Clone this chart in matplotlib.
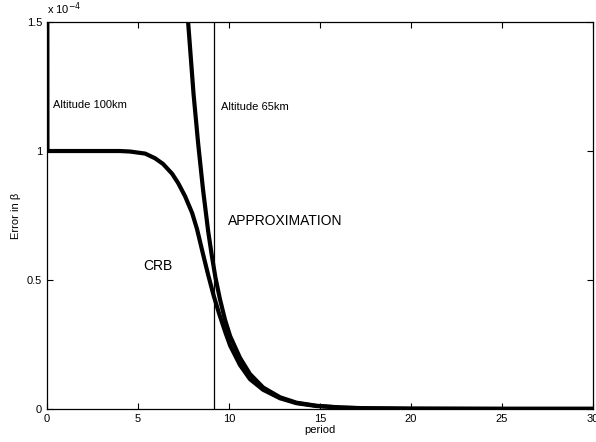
import numpy as np
import matplotlib
matplotlib.use('Agg')
import matplotlib.pyplot as plt

plt.rcParams['font.family'] = ['Liberation Sans', 'DejaVu Sans']

# values, error in units of 1e-4
crb_period = [0.0, 0.02, 2.0, 4.0, 4.56, 5.39, 5.93, 6.37, 6.87, 7.2, 7.58, 7.97,
              8.24, 8.57, 8.85, 9.15, 9.45, 9.78, 10.06, 10.6, 11.15, 11.87,
              12.8, 13.7, 14.8, 16.1, 17.4, 20.0, 25.0, 30.0]
crb_err = [3.0, 1.0, 1.0, 1.0, 0.998, 0.99, 0.972, 0.95, 0.912, 0.876, 0.825, 0.76,
           0.697, 0.6, 0.52, 0.44, 0.37, 0.3, 0.245, 0.17, 0.115, 0.074,
           0.041, 0.022, 0.011, 0.005, 0.002, 0.0005, 0.0, 0.0]

approx_period = [7.3, 7.75, 8.05, 8.3, 8.57, 8.85, 9.05, 9.25, 9.5, 9.78, 10.06,
                 10.6, 11.15, 11.87, 12.8, 13.7, 14.8, 16.1, 17.4, 20.0, 25.0, 30.0]
approx_err = [2.3, 1.5, 1.22, 1.03, 0.85, 0.69, 0.595, 0.51, 0.425, 0.345, 0.282,
              0.198, 0.135, 0.083, 0.045, 0.024, 0.012, 0.0055, 0.0025, 0.0008, 0.0, 0.0]

cutoff_period = 9.15

fig = plt.figure(figsize=(5.96, 4.42), dpi=100)
ax = fig.add_axes([0.079, 0.075, 0.916, 0.875])

ax.plot(crb_period, crb_err, color='black', lw=3.0, solid_joinstyle='round')
ax.plot(approx_period, approx_err, color='black', lw=3.0, solid_joinstyle='round')
ax.axvline(cutoff_period, color='black', lw=0.9)

ax.set_xlim(0, 30)
ax.set_ylim(0, 1.5)
ax.set_xticks([0, 5, 10, 15, 20, 25, 30])
ax.set_yticks([0, 0.5, 1.0, 1.5])
ax.set_yticklabels(['0', '0.5', '1', '1.5'])
ax.tick_params(direction='in', top=True, right=True, labelsize=8, length=4, width=0.8)
for s in ax.spines.values():
    s.set_linewidth(0.9)

ax.text(0, 1.012, r'x 10$^{-4}$', transform=ax.transAxes, fontsize=8, va='bottom')
ax.set_xlabel('period', fontsize=8, labelpad=1)
ax.set_ylabel('Error in β', fontsize=8, labelpad=4)

ax.text(0.33, 1.18, 'Altitude 100km', fontsize=8, va='center')
ax.text(9.55, 1.17, 'Altitude 65km', fontsize=8, va='center')
ax.text(9.95, 0.73, 'APPROXIMATION', fontsize=10, va='center')
ax.text(5.27, 0.555, 'CRB', fontsize=10, va='center')

fig.savefig('out.png', dpi=100)
